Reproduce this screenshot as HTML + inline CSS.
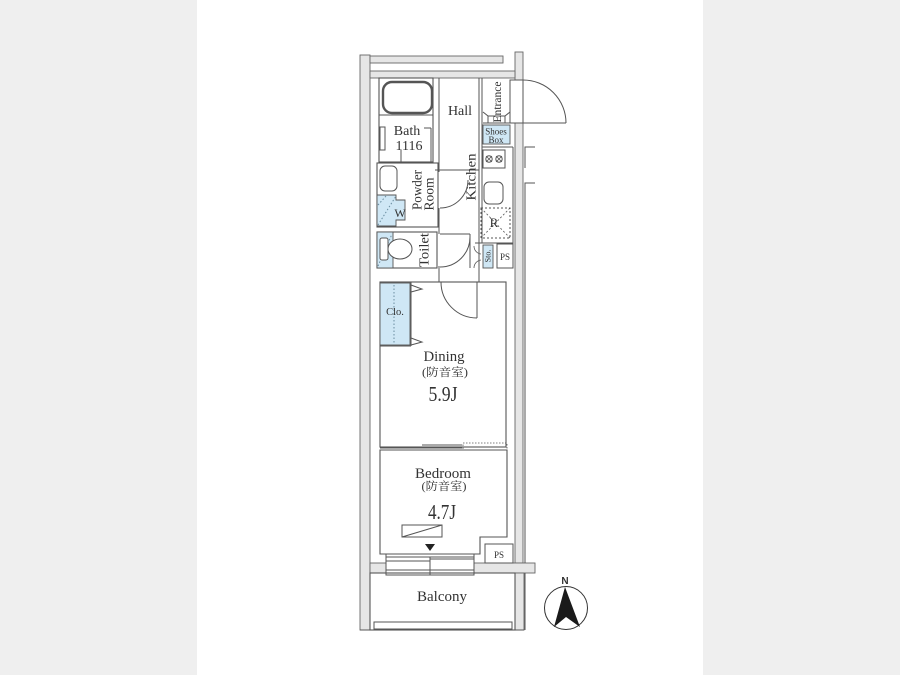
<!DOCTYPE html>
<html><head><meta charset="utf-8"><style>
html,body{margin:0;padding:0;background:#fff;}
svg{display:block;}
text{font-family:"Liberation Serif","Noto Serif CJK SC",serif;fill:#333;}
</style></head><body>
<svg width="900" height="675" viewBox="0 0 900 675" xmlns="http://www.w3.org/2000/svg">
<rect x="0" y="0" width="900" height="675" fill="#fff"/>
<rect x="0" y="0" width="197" height="675" fill="#efefef"/>
<rect x="703" y="0" width="197" height="675" fill="#efefef"/>

<g stroke="#666" stroke-width="0.9" fill="#e6e6e6">
  <rect x="360" y="55" width="10" height="575"/>
  <rect x="370" y="56" width="133" height="7"/>
  <rect x="515" y="52" width="8" height="28"/>
  <rect x="370" y="71" width="145" height="7"/>
  <rect x="515" y="123" width="8" height="440"/>
  <rect x="370" y="563" width="16" height="10"/>
  <rect x="474" y="563" width="61" height="10"/>
  <rect x="515" y="573" width="9" height="57"/>
</g>
<g stroke="#555" stroke-width="1" fill="none">
  <line x1="360" y1="630" x2="524" y2="630"/>
  <polyline points="535,147 525,147 525,168"/>
  <polyline points="535,183 525,183 525,563"/>
  <line x1="525" y1="573" x2="525" y2="630"/>
</g>

<g stroke="#555" stroke-width="1" fill="none">
  <rect x="510" y="80" width="13" height="43" fill="#fff"/>
  <line x1="523" y1="123" x2="566" y2="123"/>
  <path d="M523,80 A43,43 0 0 1 566,123"/>
</g>

<g stroke="#555" stroke-width="1.1" fill="#fff">
  <rect x="379" y="78" width="54" height="84"/>
  <rect x="377" y="163" width="61" height="64"/>
  <rect x="377" y="232" width="60" height="36"/>
  <rect x="380" y="282" width="126" height="165"/>
  <path d="M380,450 L507,450 L507,537 L480,537 L480,554 L380,554 Z"/>
  <rect x="370" y="573" width="145" height="57"/>
</g>
<g stroke="#555" stroke-width="1" fill="none">
  <rect x="383" y="82" width="49" height="31" rx="9" stroke-width="2.4"/>
  <rect x="385" y="84" width="45" height="27" rx="8" stroke="#fff" stroke-width="0.8"/>
  <line x1="379" y1="115" x2="433" y2="115"/>
  <rect x="380" y="127" width="5" height="23"/>
  <line x1="401" y1="162" x2="401" y2="150"/>
  <line x1="431" y1="162" x2="431" y2="128"/>
  <line x1="424" y1="128" x2="431" y2="128"/>
  <line x1="439" y1="78" x2="439" y2="172"/>
  <line x1="435" y1="170" x2="479" y2="170"/>
  <line x1="479" y1="78" x2="479" y2="282"/>
  <line x1="482" y1="78" x2="482" y2="243"/>
  <line x1="439" y1="208" x2="439" y2="234"/>
  <line x1="439" y1="266" x2="439" y2="282"/>
  <path d="M440,208 A28,28 0 0 0 468,180"/>
  <path d="M440,267 A30,30 0 0 0 470,237"/>
  <line x1="440" y1="234" x2="470" y2="234"/>
  <line x1="470" y1="234" x2="470" y2="268"/>
  <path d="M441,282 A36,36 0 0 0 477,318"/>
  <line x1="477" y1="282" x2="477" y2="318"/>
  <line x1="483" y1="123" x2="510" y2="123"/>
  <path d="M483,112 L488,116 L488,123 M510,112 L505,116 L505,123 M488,116 L505,116"/>
  <line x1="482" y1="147" x2="513" y2="147"/>
  <line x1="513" y1="147" x2="513" y2="268"/>
  <line x1="475" y1="243" x2="513" y2="243"/>
  <rect x="483" y="150" width="22" height="18"/>
  <circle cx="489" cy="159" r="3.2"/>
  <circle cx="499" cy="159" r="3.2"/>
  <path d="M486,156 L492,162 M492,156 L486,162 M496,156 L502,162 M502,156 L496,162" stroke-width="0.8"/>
  <rect x="484" y="182" width="19" height="22" rx="5"/>
  <rect x="481" y="208" width="29" height="30" stroke-dasharray="2,2"/>
  <path d="M481,208 L510,238 M510,208 L481,238" stroke-dasharray="2,2" stroke-width="0.8"/>
  <rect x="497" y="244" width="16" height="24" fill="#fff"/>
  <path d="M474,268 A8,8 0 0 1 481,260 M474,246 A8,8 0 0 0 481,254" stroke-width="0.8"/>
  <rect x="380" y="166" width="17" height="25" rx="5"/>
  <line x1="411" y1="282" x2="411" y2="346"/>
  <polyline points="411,285 422,289 411,292"/>
  <polyline points="411,338 422,342 411,345"/>
  <line x1="380" y1="346" x2="411" y2="346"/>
  <line x1="380" y1="448" x2="462" y2="448"/>
  <line x1="422" y1="445" x2="462" y2="445"/>
  <rect x="463" y="443" width="44" height="7" stroke-dasharray="1.5,1.5" stroke-width="0.8"/>
  <rect x="402" y="525" width="40" height="12"/>
  <line x1="402" y1="537" x2="442" y2="525"/>
  <rect x="386" y="554" width="88" height="21"/>
  <line x1="386" y1="557" x2="474" y2="557"/>
  <line x1="386" y1="561" x2="430" y2="561"/>
  <line x1="430" y1="559" x2="474" y2="559"/>
  <line x1="386" y1="570" x2="474" y2="570"/>
  <line x1="430" y1="557" x2="430" y2="575"/>
  <rect x="485" y="544" width="28" height="19" fill="#fff"/>
  <rect x="374" y="622" width="138" height="7"/>
</g>
<polygon points="425,544 435,544 430,551" fill="#222"/>

<g stroke="#555" stroke-width="0.9" fill="#cfe7f5">
  <rect x="483" y="125" width="27" height="19"/>
  <rect x="483" y="245" width="10" height="23"/>
  <rect x="380" y="283" width="30" height="62"/>
  <polygon points="377,195 396,195 396,200 405,200 405,220 396,220 396,226 377,226"/>
  <rect x="377" y="232" width="16" height="36"/>
</g>
<g stroke="#6a8da0" stroke-width="1" fill="none" stroke-dasharray="1.5,2">
  <line x1="394" y1="285" x2="394" y2="344"/>
  <path d="M378,225 L396,196 M378,205 L386,196"/>
  <path d="M378,266 L392,234"/>
</g>
<g stroke="#555" stroke-width="1" fill="#fff">
  <rect x="380" y="238" width="8" height="22" rx="2"/>
  <ellipse cx="400" cy="249" rx="12" ry="10"/>
</g>

<circle cx="566" cy="608" r="21.5" fill="none" stroke="#333" stroke-width="1"/>
<polygon points="565,587 580,627 566,617 554,627" fill="#1a1a1a"/>
<text x="565" y="584" font-size="10" font-weight="bold" text-anchor="middle" style="font-family:'Liberation Sans',sans-serif">N</text>

<text x="407" y="135" font-size="14" text-anchor="middle">Bath</text>
<text x="409" y="150" font-size="14" text-anchor="middle">1116</text>
<text x="460" y="115" font-size="14" text-anchor="middle">Hall</text>
<text x="496" y="134.5" font-size="9" text-anchor="middle">Shoes</text>
<text x="496" y="143" font-size="9" text-anchor="middle">Box</text>
<text x="400" y="217" font-size="12" text-anchor="middle">W</text>
<text x="494" y="227" font-size="13" text-anchor="middle">R</text>
<text x="505" y="260" font-size="9" text-anchor="middle">PS</text>
<text x="499" y="558" font-size="9" text-anchor="middle">PS</text>
<text x="395" y="315" font-size="10.5" text-anchor="middle">Clo.</text>

<text x="497" y="102" font-size="12" text-anchor="middle" dominant-baseline="central" transform="rotate(-90 497 102)" textLength="41" lengthAdjust="spacingAndGlyphs">Entrance</text>
<text x="472" y="177" font-size="14" text-anchor="middle" dominant-baseline="central" transform="rotate(-90 472 177)" textLength="47" lengthAdjust="spacingAndGlyphs">Kitchen</text>
<text x="417" y="190" font-size="13.5" text-anchor="middle" dominant-baseline="central" transform="rotate(-90 417 190)" textLength="40" lengthAdjust="spacingAndGlyphs">Powder</text>
<text x="429" y="194" font-size="13.5" text-anchor="middle" dominant-baseline="central" transform="rotate(-90 429 194)" textLength="33" lengthAdjust="spacingAndGlyphs">Room</text>
<text x="424" y="250" font-size="13.5" text-anchor="middle" dominant-baseline="central" transform="rotate(-90 424 250)" textLength="34" lengthAdjust="spacingAndGlyphs">Toilet</text>
<text x="488" y="256" font-size="8" text-anchor="middle" dominant-baseline="central" transform="rotate(-90 488 256)">Sto.</text>

<text x="444" y="361" font-size="15" text-anchor="middle" textLength="41" lengthAdjust="spacingAndGlyphs">Dining</text>
<text x="445" y="376" font-size="11.5" text-anchor="middle" textLength="46" lengthAdjust="spacingAndGlyphs">(防音室)</text>
<text x="443" y="401" font-size="21" text-anchor="middle" textLength="29" lengthAdjust="spacingAndGlyphs">5.9J</text>

<text x="443" y="478" font-size="15" text-anchor="middle" textLength="56" lengthAdjust="spacingAndGlyphs">Bedroom</text>
<text x="444" y="490" font-size="11.5" text-anchor="middle" textLength="45" lengthAdjust="spacingAndGlyphs">(防音室)</text>
<text x="442" y="519" font-size="21" text-anchor="middle" textLength="28" lengthAdjust="spacingAndGlyphs">4.7J</text>

<text x="442" y="601" font-size="15" text-anchor="middle" textLength="50" lengthAdjust="spacingAndGlyphs">Balcony</text>
</svg>
</body></html>
